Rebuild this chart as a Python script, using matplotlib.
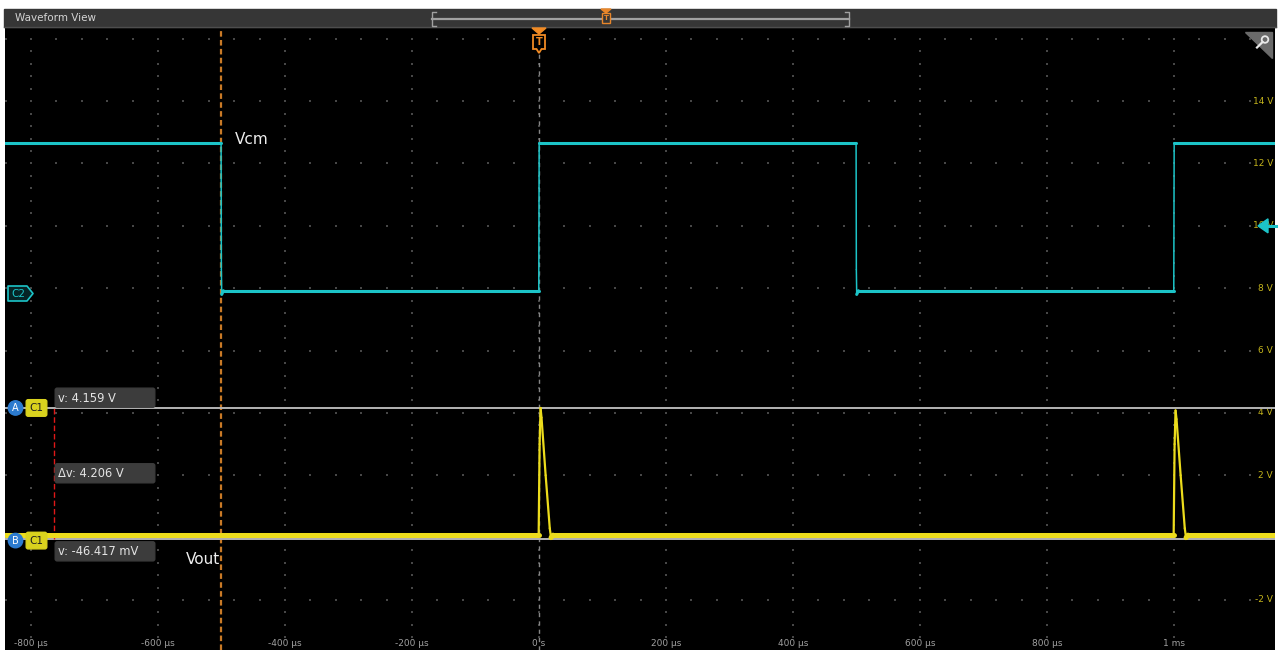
import matplotlib
matplotlib.use("Agg")
import matplotlib.pyplot as plt
import numpy as np
from matplotlib.patches import Rectangle, FancyBboxPatch, Polygon, Circle
from matplotlib.collections import LineCollection
import matplotlib.transforms as mtrans

# ---------------- data ----------------
# Channel 2 (Vcm), square wave: time in microseconds, level in volts
vcm_t = [-841, -500.6, -500.2, -499.6, -497, -0.3, 0.3, 499.4, 499.8, 500.4, 503, 999.7, 1000.3, 1160]
vcm_v = [12.67, 12.67, 8.6, 7.80, 7.92, 7.92, 12.67, 12.67, 8.6, 7.80, 7.92, 7.92, 12.67, 12.67]

# Channel 1 (Vout), spikes at each rising edge of Vcm
vout_t = [-841, -0.5, 1.0, 2.5, 4.0, 10.5, 17.0, 19.0, 22.0,
          999.5, 1001.0, 1002.5, 1004.0, 1010.5, 1017.0, 1019.0, 1022.0, 1160]
vout_v = [0.08, 0.08, 3.0, 4.159, 3.85, 2.0, 0.3, 0.0, 0.08,
          0.08, 3.0, 4.08, 3.8, 2.0, 0.3, 0.0, 0.08, 0.08]

# time axis labels
time_ticks = [-800, -600, -400, -200, 0, 200, 400, 600, 800, 1000]
time_labels = ["-800 µs", "-600 µs", "-400 µs", "-200 µs", "0 s",
               "200 µs", "400 µs", "600 µs", "800 µs", "1 ms"]
# volt axis labels
volt_ticks = [-2, 0, 2, 4, 6, 8, 10, 12, 14]
volt_labels = ["-2 V", "0 V", "2 V", "4 V", "6 V", "8 V", "10 V", "12 V", "14 V"]

# cursors
cursor_a = 4.159
cursor_b = -0.046417
cursor_t = -763.8
marker_t = -500.0
delta_text = "Δv: 4.206 V"
a_text = "v: 4.159 V"
b_text = "v: -46.417 mV"

# ---------------- figure ----------------
W, H = 1279, 650
fig = plt.figure(figsize=(W / 100, H / 100), dpi=100, facecolor="white")

ax_left, ax_right, ax_top, ax_bot = 5, 1275, 27, 650
ax = fig.add_axes([ax_left / W, (H - ax_bot) / H, (ax_right - ax_left) / W, (ax_bot - ax_top) / H])
ax.set_facecolor("black")
ax.set_xlim(-840.9, 1159.1)
ax.set_ylim(-3.604, 16.378)
for s in ax.spines.values():
    s.set_visible(False)
ax.set_xticks([])
ax.set_yticks([])

# dotted graticule
major_t = np.arange(-800, 1001, 200)
major_v = np.arange(-2, 17, 2)
minor_t = np.arange(-840, 1160, 40)
minor_v = np.arange(-3.2, 16.4, 0.4)
gx, gy = [], []
for t in major_t:
    gx += [t] * len(minor_v)
    gy += list(minor_v)
for v in major_v:
    gx += list(minor_t)
    gy += [v] * len(minor_t)
ax.scatter(gx, gy, s=0.9, marker="s", color="#474747", linewidths=0, zorder=1)

# axis labels inside the screen
bx = mtrans.blended_transform_factory(ax.transData, ax.transAxes)
by = mtrans.blended_transform_factory(ax.transAxes, ax.transData)
for t, lab in zip(time_ticks, time_labels):
    ax.text(t, 0.011, lab, transform=bx, ha="center", va="center",
            fontsize=6.5, color="#a0a0a0", zorder=2)
for v, lab in zip(volt_ticks, volt_labels):
    ax.text(0.9985, v, lab, transform=by, ha="right", va="center",
            fontsize=6.5, color="#c4b41c", zorder=2)

# cursor and reference lines
ax.axvline(marker_t, color="#c97a26", lw=1.6, dashes=(2.5, 1.5), zorder=3)
ax.axvline(0, ymin=0, ymax=(ax_bot - 54) / (ax_bot - ax_top), color="#858585", lw=1.0,
           dashes=(3, 3), zorder=3)
ax.axhline(cursor_a, color="#b4b4b4", lw=1.4, zorder=3)
ax.axhline(cursor_b, color="#b4b4b4", lw=1.4, zorder=3)
ax.plot([cursor_t, cursor_t], [cursor_b, cursor_a], color="#e01818", lw=1.0,
        dashes=(4, 2), zorder=3)


def trace(ts, vs, color, flat_w, edge_w, z):
    pts = np.column_stack([ts, vs])
    segs = np.stack([pts[:-1], pts[1:]], axis=1)
    widths = [flat_w if abs(b[1] - a[1]) < 0.2 else edge_w for a, b in segs]
    lc = LineCollection(segs, colors=color, linewidths=widths, zorder=z,
                        capstyle="round", joinstyle="round")
    ax.add_collection(lc)


trace(vcm_t, vcm_v, "#1cc4c8", 2.2, 1.1, 4)
trace(vout_t, vout_v, "#ecdc1c", 3.6, 1.6, 5)

# ---------------- overlay (pixel coordinates, y downward) ----------------
ov = fig.add_axes([0, 0, 1, 1], zorder=10)
ov.set_xlim(0, W)
ov.set_ylim(H, 0)
ov.axis("off")
ov.patch.set_alpha(0)


def ypix(v):
    return H - ax.transData.transform((0, v))[1]


yA, yB = ypix(cursor_a), ypix(cursor_b)

# title bar
ov.add_patch(Rectangle((4, 9), 1272, 18, color="#363636", zorder=1))
ov.plot([4, 1276], [26.5, 26.5], color="#4e4e4e", lw=1, zorder=2)
ov.text(15, 18, "Waveform View", fontsize=7.5, color="#d4d4d4", va="center", ha="left")

# overview bracket
ov.plot([432, 849], [19, 19], color="#a0a0a0", lw=1.6, zorder=2)
for xb, d in [(432, 1), (849, -1)]:
    ov.plot([xb + 4 * d, xb, xb, xb + 4 * d], [12, 12, 25.5, 25.5], color="#a0a0a0", lw=1, zorder=2)
ov.add_patch(Polygon([(601, 9), (611, 9), (606, 13)], color="#e8862a", zorder=3))
ov.add_patch(Rectangle((602, 13), 8, 10, fc="#363636", ec="#e8862a", lw=1, zorder=3))
ov.text(606, 18, "T", fontsize=5, color="#e8862a", ha="center", va="center", zorder=4,
        fontweight="bold")

# trigger marker
ov.add_patch(Polygon([(532, 28), (546, 28), (539, 34)], color="#f08a24", zorder=3))
ov.add_patch(Polygon([(533, 35), (545, 35), (545, 49), (541.5, 49), (539, 53),
                      (536.5, 49), (533, 49)], fc="black", ec="#f08a24", lw=1.3, zorder=3))
ov.text(539, 42, "T", fontsize=7, color="#f08a24", ha="center", va="center",
        fontweight="bold", zorder=4)

# zoom corner
ov.add_patch(Polygon([(1245, 32), (1272, 32), (1272, 58)], color="#6a6a6a", zorder=3))
ov.add_patch(Circle((1265, 39.5), 3.3, fc="none", ec="#e8e8e8", lw=1.3, zorder=4))
ov.plot([1262.6, 1257], [42, 47.5], color="#e8e8e8", lw=1.6, zorder=4)

# channel 2 label and offset arrow
ov.add_patch(Polygon([(8, 286), (27, 286), (33, 293.5), (27, 301), (8, 301)],
                     fc="#052426", ec="#1cc4c8", lw=1.2, zorder=3, joinstyle="round"))
ov.text(18.5, 294, "C2", fontsize=7.5, color="#1cc4c8", ha="center", va="center", zorder=4)
y10 = ypix(10)
ov.add_patch(Polygon([(1258, y10), (1268, y10 - 7), (1268, y10 + 7)], color="#1cc4c8", zorder=4))
ov.plot([1265, 1276], [y10, y10], color="#1cc4c8", lw=2.2, zorder=4)

# cursor badges
for yc, letter in [(yA, "A"), (yB + 1.5, "B")]:
    ov.add_patch(Circle((15.5, yc), 7.2, color="#2c7bcf", zorder=4))
    ov.text(15.5, yc + 0.5, letter, fontsize=7, color="white", ha="center", va="center", zorder=5)
    ov.add_patch(FancyBboxPatch((27, yc - 7.5), 19, 15, boxstyle="round,pad=0.8,rounding_size=2",
                                color="#d9d21e", zorder=4))
    ov.text(36.5, yc + 0.5, "C1", fontsize=7.5, color="#202020", ha="center", va="center", zorder=5)

# readouts
for y0, txt in [(yA - 20, a_text), ((yA + yB) / 2 - 10, delta_text), (yB + 2.5, b_text)]:
    ov.add_patch(FancyBboxPatch((56, y0 + 1), 98, 17.5, boxstyle="round,pad=0.8,rounding_size=2",
                                color="#3c3c3c", zorder=4))
    ov.text(58, y0 + 10.2, txt, fontsize=8.3, color="#e4e4e4", ha="left", va="center", zorder=5)

# signal names
ov.text(235, 139, "Vcm", fontsize=11, color="#eeeeee", ha="left", va="center", zorder=5)
ov.text(186, 559, "Vout", fontsize=11, color="#eeeeee", ha="left", va="center", zorder=5)

fig.savefig("out.png", dpi=100, facecolor="white")
